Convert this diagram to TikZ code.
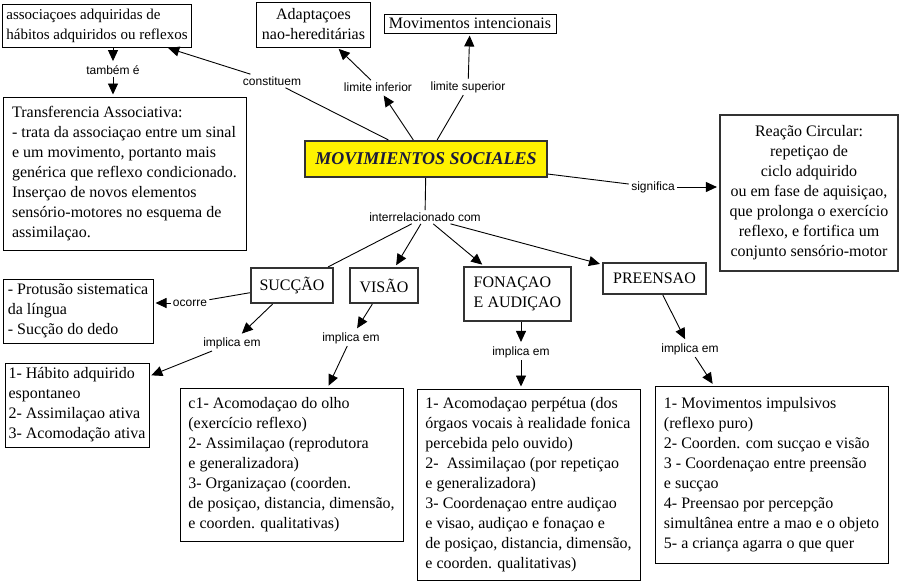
\documentclass[tikz,border=0pt]{standalone}
\usepackage{fontspec}
\setmainfont{Liberation Serif}
\setsansfont{Liberation Sans}
\usetikzlibrary{arrows.meta, positioning}
\definecolor{boxgray}{RGB}{50,50,50}
\definecolor{navy}{RGB}{25,25,60}

\begin{document}
\begin{tikzpicture}[x=1pt, y=-1pt,
    box/.style={draw, line width=1pt, inner xsep=5pt, inner ysep=2pt, align=left, font=\fontsize{16}{20}\selectfont},
    thickbox/.style={box, line width=2.2pt, draw=boxgray},
    phrase/.style={inner sep=2pt, font=\sffamily\fontsize{12}{14}\selectfont},
    arr/.style={-{Triangle[length=11pt, width=10pt]}, shorten >=2pt},
    line width=0.9pt]
    \path[fill=white, use as bounding box] (0,0) rectangle (904,582);
    \node[box, inner xsep=4pt, font=\fontsize{15}{20}\selectfont, minimum width=182, minimum height=43] (assoc) at (97,25.5) {associaçoes adquiridas de\\hábitos adquiridos ou reflexos};
    \node[box, align=center, minimum width=113, minimum height=45] (adapt) at (313.5,24.5) {Adaptaçoes\\nao-hereditárias};
    \node[box, inner xsep=3pt, inner ysep=1pt, minimum width=172, minimum height=19] (movint) at (470,23.5) {Movimentos intencionais};
    \node[box, minimum width=243, minimum height=153] (transf) at (124.5,173.5) {Transferencia Associativa:\\- trata da associaçao entre um sinal\\e um movimento, portanto mais\\genérica que reflexo condicionado.\\Inserçao de novos elementos\\sensório-motores no esquema de\\assimilaçao.};
    \node[thickbox, fill=yellow, align=center, minimum width=242, minimum height=36, font=\fontsize{18}{22}\selectfont\bfseries\itshape, text=navy] (social) at (426,159) {MOVIMIENTOS SOCIALES};
    \node[thickbox, align=center, minimum width=178, minimum height=156] (reacao) at (809,193) {Reação Circular:\\repetiçao de\\ciclo adquirido\\ou em fase de aquisiçao,\\que prolonga o exercício\\reflexo, e fortifica um\\conjunto sensório-motor};
    \node[thickbox, align=center, minimum width=82, minimum height=35] (succao) at (292,285.5) {SUCÇÃO};
    \node[thickbox, align=center, minimum width=68, minimum height=35] (visao) at (384,285.5) {VISÃO};
    \node[thickbox, minimum width=107, minimum height=54] (fonacao) at (517.5,294) {FONAÇAO\\E AUDIÇAO};
    \node[thickbox, align=center, minimum width=103, minimum height=31] (preensao) at (654.5,278.5) {PREENSAO};
    \node[box, inner xsep=3pt, minimum width=150, minimum height=64] (protusao) at (78,311) {- Protusão sistematica\\da língua\\- Sucção do dedo};
    \node[box, inner xsep=3pt, minimum width=144, minimum height=84] (habito) at (77,405) {1- Hábito adquirido\\espontaneo\\2- Assimilaçao ativa\\3- Acomodação ativa};
    \node[box, minimum width=223, minimum height=153] (olho) at (291.5,464.5) {c1- Acomodaçao do olho\\(exercício reflexo)\\2- Assimilaçao (reprodutora\\e generalizadora)\\3- Organizaçao (coorden.\\de posiçao, distancia, dimensão,\\e coorden. qualitativas)};
    \node[box, minimum width=223, minimum height=191] (vocal) at (528.5,484.5) {1- Acomodaçao perpétua (dos\\órgaos vocais à realidade fonica\\percebida pelo ouvido)\\2-\ \ Assimilaçao (por repetiçao\\e generalizadora)\\3- Coordenaçao entre audiçao\\e visao, audiçao e fonaçao e\\de posiçao, distancia, dimensão,\\e coorden. qualitativas)};
    \node[box, minimum width=233, minimum height=177] (mao) at (771.5,474.5) {1- Movimentos impulsivos\\(reflexo puro)\\2- Coorden. com sucçao e visão\\3 - Coordenaçao entre preensão\\e sucçao\\4- Preensao por percepção\\simultânea entre a mao e o objeto\\5- a criança agarra o que quer};
    \node[phrase] (tambem) at (113,70) {também é};
    \node[phrase] (constituem) at (272,81) {constituem};
    \node[phrase] (inferior) at (378,87) {limite inferior};
    \node[phrase] (superior) at (468,87) {limite superior};
    \node[phrase] (inter) at (425,217) {interrelacionado com};
    \node[phrase] (significa) at (653,187) {significa};
    \node[phrase] (ocorre) at (190,303) {ocorre};
    \node[phrase] (impl1) at (232,343) {implica em};
    \node[phrase] (impl2) at (351,338) {implica em};
    \node[phrase] (impl3) at (521,352) {implica em};
    \node[phrase] (impl4) at (690,349) {implica em};
    \draw[arr] (tambem.north |- assoc.south) -- (tambem.north);
    \draw[arr] (tambem.south) -- (tambem.south |- transf.north);
    \draw (social) -- (constituem);
    \draw[arr] (constituem) -- (assoc);
    \draw[arr] (social) -- (inferior);
    \draw[arr] (inferior) -- (adapt);
    \draw (social) -- (superior);
    \draw[arr] (superior) -- (movint);
    \draw (social) -- (inter);
    \draw (inter) -- (succao);
    \draw[arr] (inter) -- (visao);
    \draw[arr] (inter) -- (fonacao);
    \draw[arr] (inter) -- (preensao);
    \draw (social) -- (significa);
    \draw[arr] (significa.east) -- (significa.east -| reacao.west);
    \draw (succao) -- (ocorre);
    \draw[arr] (ocorre.west) -- (ocorre.west -| protusao.east);
    \draw[arr] (succao) -- (impl1);
    \draw[arr] (impl1) -- (habito);
    \draw[arr] (visao) -- (impl2);
    \draw[arr] (impl2) -- (olho);
    \draw[arr] (impl3.north |- fonacao.south) -- (impl3.north);
    \draw[arr] (impl3.south) -- (impl3.south |- vocal.north);
    \draw[arr] (preensao) -- (impl4);
    \draw[arr] (impl4) -- (mao);
\end{tikzpicture}
\end{document}
